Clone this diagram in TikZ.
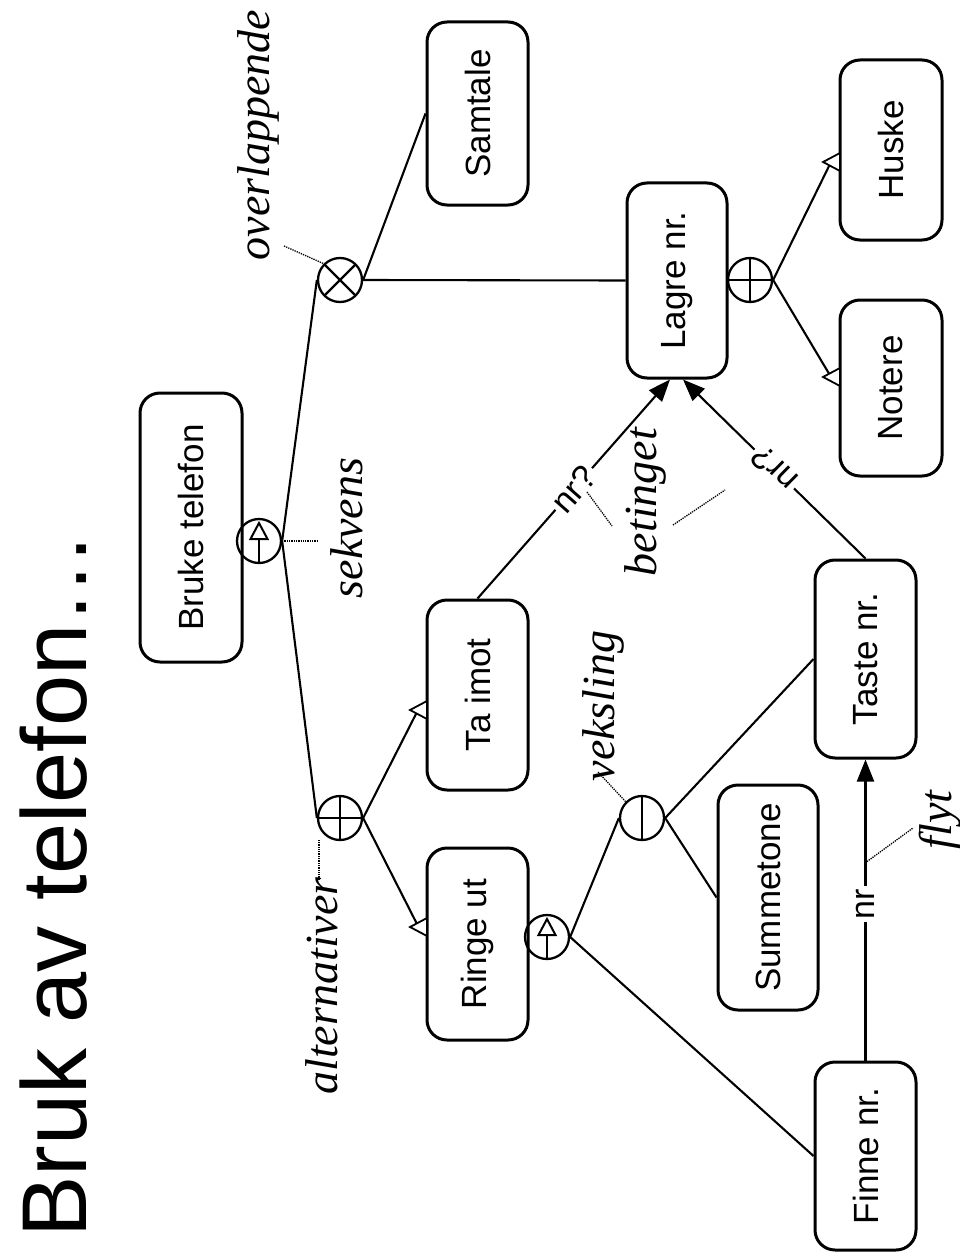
\documentclass[tikz,border=0pt]{standalone}
\usepackage{graphicx}
\usepackage{fontspec}
\setmainfont{Liberation Sans}
\newfontfamily\labfont{Liberation Serif}
\usetikzlibrary{arrows.meta,calc}
\tikzset{
  box/.style={draw, rounded corners=20pt, line width=3pt, inner sep=0pt, font=\fontsize{35}{40}\selectfont},
  conn/.style={line width=2.1pt},
  arr/.style={conn, -{Triangle[length=22pt,width=17pt]}},
  junc/.style={circle, draw, line width=2.3pt, minimum size=44pt, inner sep=0pt},
  plusj/.style={junc, path picture={\draw[line width=2.2pt] (path picture bounding box.north) -- (path picture bounding box.south) (path picture bounding box.west) -- (path picture bounding box.east);}},
  crossj/.style={junc, path picture={\draw[line width=2.2pt] (path picture bounding box.north west) -- (path picture bounding box.south east) (path picture bounding box.north east) -- (path picture bounding box.south west);}},
  vekj/.style={junc, path picture={\draw[line width=2.2pt] (path picture bounding box.north) -- (path picture bounding box.south);}},
  seqj/.style={junc, path picture={
     \coordinate (pc) at (path picture bounding box.center);
     \draw[line width=2pt] ([yshift=2pt]pc) -- ([yshift=-21pt]pc);
     \draw[line width=2pt, fill=white, line join=miter] ([yshift=18pt]pc) -- ([yshift=2pt,xshift=-8.5pt]pc) -- ([yshift=2pt,xshift=8.5pt]pc) -- cycle;}},
  lab/.style={font=\labfont\itshape\fontsize{46}{50}\selectfont, rotate=90, inner sep=0pt},
  nrlab/.style={fill=white, inner sep=3pt, font=\fontsize{34}{36}\selectfont},
  dotl/.style={densely dotted, line width=1.3pt},
  otri/.pic={\draw[line width=1.8pt, fill=white, line join=miter] (0,-9) -- (-17,0) -- (0,9) -- cycle;}
}
\begin{document}
\begin{tikzpicture}[x=1pt,y=-1pt]
\useasboundingbox (0,0) rectangle (960,1260);

% title
\node[font=\fontsize{92}{100}\selectfont, rotate=90] (title) at (54,885) {Bruk av telefon…};

% boxes
\node[box, minimum width=102pt, minimum height=269pt] (bruke) at (191,527.5) {\rotatebox{90}{Bruke telefon}};
\node[box, minimum width=101pt, minimum height=190pt] (taimot) at (477.5,695) {\rotatebox{90}{Ta imot}};
\node[box, minimum width=101pt, minimum height=192pt] (ringe) at (477.5,944) {\rotatebox{90}{Ringe ut}};
\node[box, minimum width=101pt, minimum height=183pt] (samtale) at (477.5,113.5) {\rotatebox{90}{Samtale}};
\node[box, minimum width=100pt, minimum height=195pt] (lagre) at (677,280.5) {\rotatebox{90}{Lagre nr.}};
\node[box, minimum width=100pt, minimum height=225pt] (summ) at (768,897.5) {\rotatebox{90}{Summetone}};
\node[box, minimum width=101pt, minimum height=198pt] (taste) at (865.5,659) {\rotatebox{90}{Taste nr.}};
\node[box, minimum width=101pt, minimum height=188pt] (finne) at (865.5,1156) {\rotatebox{90}{Finne nr.}};
\node[box, minimum width=102pt, minimum height=176pt] (notere) at (891,388) {\rotatebox{90}{Notere}};
\node[box, minimum width=102pt, minimum height=180pt] (huske) at (891,150) {\rotatebox{90}{Huske}};

% junctions
\node[seqj] (sq1) at (259,541) {};
\node[plusj] (alt) at (340,818) {};
\node[crossj] (ovl) at (340,280) {};
\node[seqj] (sq2) at (547,937) {};
\node[vekj] (vek) at (642,818) {};
\node[plusj] (lag) at (750,280) {};

% triangle end points
\coordinate (taT) at (418,710);
\coordinate (riT) at (418,926);
\coordinate (huT) at (831,162);
\coordinate (noT) at (831,377);

% connectors
\draw[conn] (ovl.west) -- (sq1.east) -- (alt.west);
\draw[conn] (alt.east) -- (taT);
\draw[conn] (alt.east) -- (riT);
\draw[conn] (ovl.east) -- (samtale.west);
\draw[conn] (ovl.east) -- (lagre.west);
\draw[conn] (lag.east) -- (huT);
\draw[conn] (lag.east) -- (noT);
\draw[conn] (sq2.east) -- (vek.west);
\draw[conn] (sq2.east) -- (finne.west);
\draw[conn] (vek.east) -- (summ.west);
\draw[conn] (vek.east) -- (taste.west);
\draw[arr] (taimot.north) -- node[nrlab, sloped, pos=0.5] {nr?} ([xshift=-7pt]lagre.south);
\draw[arr] (taste.north) -- node[nrlab, sloped, allow upside down, pos=0.5] {nr?} ([xshift=6pt]lagre.south);
\draw[arr] (finne.north) -- node[nrlab, sloped, pos=0.52] {nr} (taste.south);

\pic at (427,710) {otri};
\pic at (427,927) {otri};
\pic at (840,162) {otri};
\pic at (840,377) {otri};

% labels
\node[lab] (ovlL) at (258,135) {overlappende};
\node[lab] (sekL) at (347,528) {sekvens};
\node[lab] (altL) at (322,986) {alternativer};
\node[lab] (vekL) at (603,706) {veksling};
\node[lab] (betL) at (645,502) {betinget};
\node[lab] (flyL) at (940,820) {flyt};

% dotted pointers
\coordinate (ovlD) at (284,246);
\draw[dotl] (ovlD) -- (ovl.north west);
\coordinate (sekD) at (318,541);
\draw[dotl] (sq1.east) -- (sekD);
\coordinate (altD1) at (319,880);
\coordinate (altD2) at (319,840);
\draw[dotl] (altD1) -- (altD2);
\coordinate (vekD) at (598,772);
\draw[dotl] (vekD) -- (vek.north west);
\coordinate (betD1) at (587,492);
\coordinate (betD2) at (612,526);
\draw[dotl] (betD1) -- (betD2);
\coordinate (betD3) at (673,525);
\coordinate (betD4) at (725,490);
\draw[dotl] (betD3) -- (betD4);
\coordinate (flyD1) at (865,863);
\coordinate (flyD2) at (913,828);
\draw[dotl] (flyD1) -- (flyD2);
\end{tikzpicture}
\end{document}
